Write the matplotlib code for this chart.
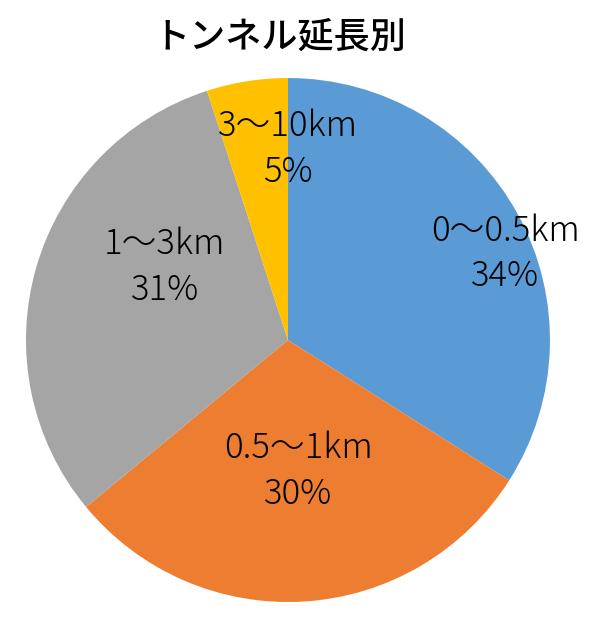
import matplotlib
matplotlib.use("Agg")
import matplotlib.pyplot as plt

plt.rcParams['font.family'] = ['Noto Sans CJK JP', 'DejaVu Sans']

title = "トンネル延長別"
categories = ["0～0.5km", "0.5～1km", "1～3km", "3～10km"]
shares = [34, 30, 31, 5]
colors = ["#5B9BD5", "#ED7D31", "#A5A5A5", "#FFC000"]
# label centres in units of the pie radius
label_pos = [(0.83, 0.33), (0.04, -0.50), (-0.47, 0.28), (0.0, 0.73)]

fig = plt.figure(figsize=(6, 6.23), dpi=100)
ax = fig.add_axes([0.0433, 0.0337, 0.8733, 0.8411])

ax.pie(shares, colors=colors, startangle=90, counterclock=False, radius=1,
       wedgeprops=dict(linewidth=0))
for (x, y), cat, val in zip(label_pos, categories, shares):
    ax.text(x, y, f"{cat}\n{val}%", ha='center', va='center', fontsize=25,
            fontweight='light', linespacing=1.35, color='black')

ax.set_xlim(-1, 1)
ax.set_ylim(-1, 1)
ax.set_aspect('equal')
ax.axis('off')

fig.text(0.467, 0.94, title, ha='center', va='center', fontsize=26, fontweight='medium')

fig.savefig("out.png", dpi=100)
